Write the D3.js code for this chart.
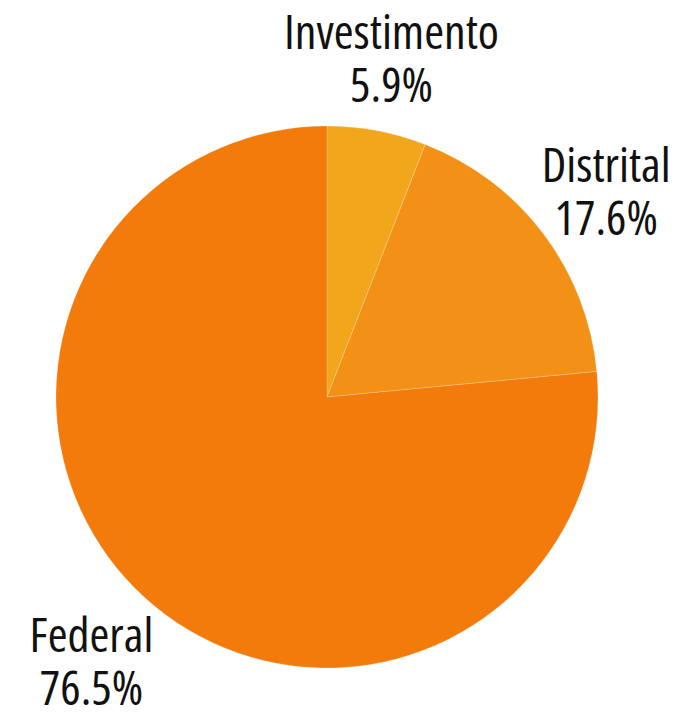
<!DOCTYPE html>
<html><head><meta charset="utf-8">
<script src="https://cdn.jsdelivr.net/npm/d3@7"></script>
<style>
html,body{margin:0;padding:0;background:#fff;}
text{font-family:"Open Sans",sans-serif;font-stretch:75%;}
</style></head>
<body>
<svg id="c" width="684" height="713"></svg>
<script>
const categories = ["Investimento","Distrital","Federal"];
const values = [5.9, 17.6, 76.5];
const colors = ["#F2A61B","#F29116","#F27B0C"];

const svg = d3.select("#c");
const cx = 327, cy = 397, R = 271, RL = 350;
const g = svg.append("g").attr("transform",`translate(${cx},${cy})`);
const data = categories.map((c,i)=>({c, v:values[i], col:colors[i]}));
const pie = d3.pie().value(d=>d.v).sort(null);
const arc = d3.arc().innerRadius(0).outerRadius(R);
const arcs = pie(data);
g.selectAll("path").data(arcs).join("path")
  .attr("d",arc).attr("fill",d=>d.data.col)
  .attr("stroke","rgba(255,255,255,0.35)").attr("stroke-width",0.6);
const lab = d3.arc().innerRadius(RL).outerRadius(RL);
const t = g.selectAll("text.l").data(arcs).join("text").attr("class","l")
  .attr("text-anchor","middle")
  .attr("font-size",48)
  .attr("fill","#111")
  .attr("transform",d=>{const [x,y]=lab.centroid(d);return `translate(${x},${y})`;});
t.append("tspan").attr("x",0).attr("y",-3.5).text(d=>d.data.c);
t.append("tspan").attr("x",0).attr("y",49.5).text(d=>d.data.v.toFixed(1)+"%");
</script>
</body></html>
